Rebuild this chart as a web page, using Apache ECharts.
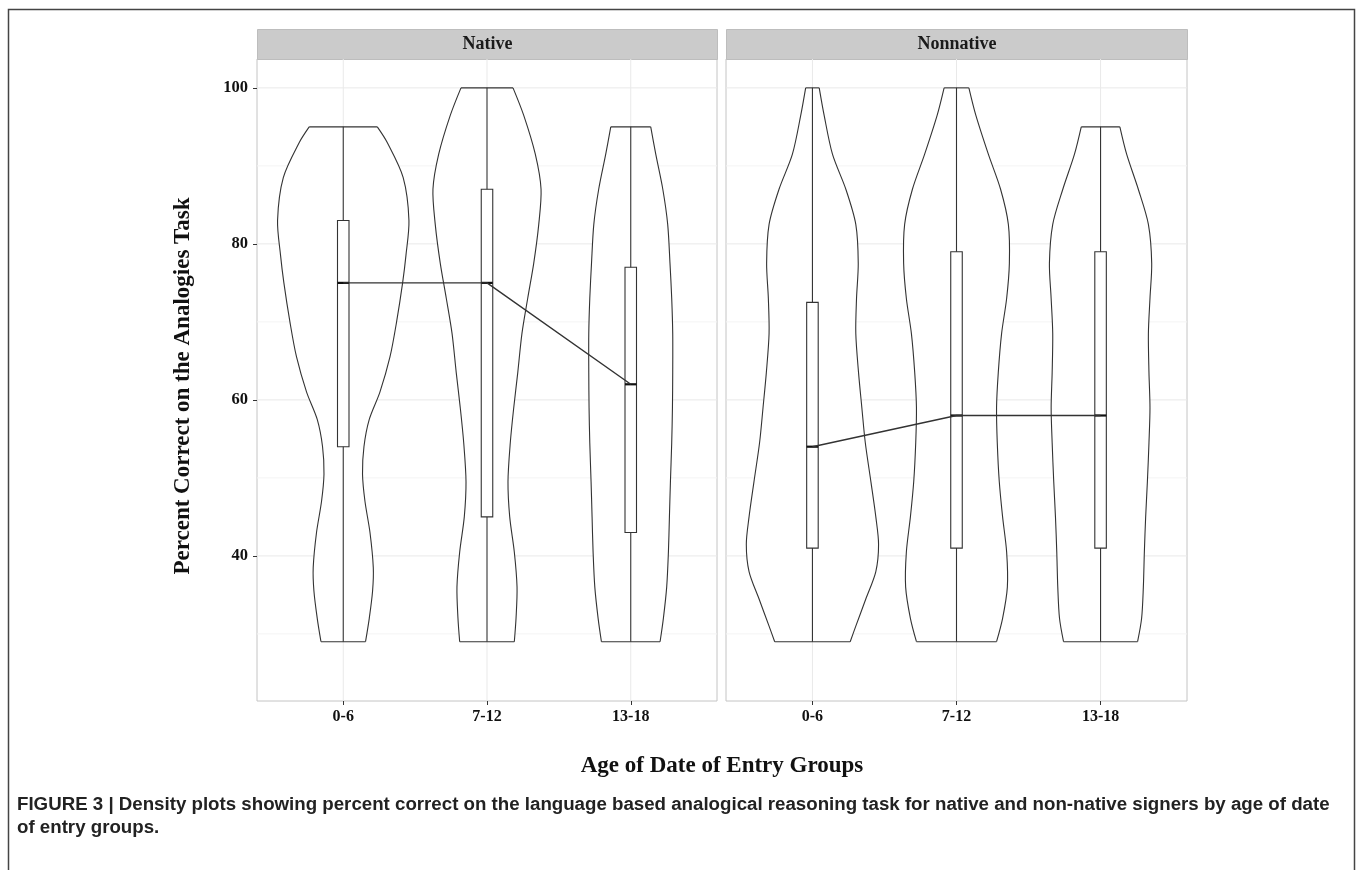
<!DOCTYPE html>
<html>
<head>
<meta charset="UTF-8">
<title>Analogies task - violin plots</title>
<script src="https://cdn.jsdelivr.net/npm/echarts@6/dist/echarts.min.js"></script>
<style>
  html, body { margin: 0; padding: 0; background: #fff; }
  #chart { width: 1358px; height: 870px; }
</style>
</head>
<body>
<div id="chart"></div>
<script>
// groups on the x axis (positions 1..3)
var groups = ['0-6', '7-12', '13-18'];
var panels = ['Native', 'Nonnative'];
var yTicks = [40, 60, 80, 100];
var yMinor = [30, 50, 70, 90];

// box stats per group: [min, q1, median, q3, max]
var nativeBox = [[29, 54, 75, 83, 95], [29, 45, 75, 87, 100], [29, 43, 62, 77, 95]];
var nonnativeBox = [[29, 41, 54, 72.5, 100], [29, 41, 58, 79, 100], [29, 41, 58, 79, 95]];

// violin outlines, bottom to top: [percent correct, half width in x units]
var nativeViolin06 = [[29, 0.155], [32, 0.181], [35.5, 0.204], [38.5, 0.209], [43, 0.186], [47, 0.151], [50.5, 0.134], [54, 0.144], [57.5, 0.181], [61, 0.255], [65.5, 0.325], [70, 0.371], [75, 0.413], [78.5, 0.436], [83, 0.457], [88.5, 0.417], [93, 0.306], [95, 0.237]];
var nativeViolin712 = [[29, 0.190], [32, 0.202], [36, 0.209], [40.5, 0.190], [45, 0.158], [49.5, 0.146], [54.5, 0.162], [59, 0.186], [63.5, 0.214], [68.5, 0.243], [73, 0.283], [77.5, 0.325], [82.5, 0.360], [87, 0.376], [91.5, 0.336], [96.5, 0.255], [100, 0.181]];
var nativeViolin1318 = [[29, 0.204], [32, 0.227], [36, 0.250], [40.5, 0.262], [45, 0.269], [49.5, 0.276], [54.5, 0.285], [59, 0.290], [63.5, 0.292], [68.5, 0.292], [73, 0.285], [77.5, 0.273], [82.5, 0.257], [87, 0.223], [91.5, 0.174], [95, 0.139]];
var nonnativeViolin06 = [[29, 0.262], [31, 0.301], [34.5, 0.371], [38, 0.440], [41.5, 0.459], [45, 0.440], [49.5, 0.406], [54.5, 0.367], [59, 0.343], [63.5, 0.320], [68.5, 0.301], [73, 0.306], [77.5, 0.318], [82.5, 0.301], [87, 0.232], [91.5, 0.139], [96.5, 0.081], [100, 0.047]];
var nonnativeViolin712 = [[29, 0.278], [32, 0.320], [36, 0.353], [40.5, 0.348], [45, 0.320], [49.5, 0.297], [54.5, 0.283], [59, 0.278], [63.5, 0.290], [68.5, 0.313], [73, 0.348], [77.5, 0.367], [82.5, 0.360], [87, 0.306], [91.5, 0.221], [96.5, 0.134], [100, 0.086]];
var nonnativeViolin1318 = [[29, 0.257], [32, 0.285], [36, 0.297], [40.5, 0.304], [45, 0.313], [49.5, 0.325], [54.5, 0.336], [59, 0.343], [63.5, 0.336], [68.5, 0.332], [73, 0.343], [77.5, 0.355], [82.5, 0.332], [87, 0.262], [91.5, 0.181], [95, 0.134]];

var nativeViolins = [nativeViolin06, nativeViolin712, nativeViolin1318];
var nonnativeViolins = [nonnativeViolin06, nonnativeViolin712, nonnativeViolin1318];

var caption = 'FIGURE 3 | Density plots showing percent correct on the language based analogical reasoning task for native and non-native signers by age of date\nof entry groups.';

var serif = 'Liberation Serif, Times New Roman, serif';
var ink = '#333';
var boxHalf = 0.04;

var chart = echarts.init(document.getElementById('chart'), null, {renderer: 'canvas'});

function violinItem(profiles) {
  return function (params, api) {
    var gi = api.value(0);
    var prof = profiles[gi - 1];
    var left = [], right = [];
    prof.forEach(function (p) {
      left.push(api.coord([gi - p[1], p[0]]));
      right.push(api.coord([gi + p[1], p[0]]));
    });
    var n = left.length - 1;
    var st = {stroke: ink, lineWidth: 1.1, fill: null};
    return {
      type: 'group',
      children: [
        {type: 'polygon', shape: {points: left.concat(right.slice().reverse())}, style: {fill: '#fff'}},
        {type: 'polyline', shape: {points: left, smooth: 0.3}, style: st},
        {type: 'polyline', shape: {points: right, smooth: 0.3}, style: st},
        {type: 'line', shape: {x1: left[0][0], y1: left[0][1], x2: right[0][0], y2: right[0][1]}, style: st},
        {type: 'line', shape: {x1: left[n][0], y1: left[n][1], x2: right[n][0], y2: right[n][1]}, style: st}
      ]
    };
  };
}

function boxItem(params, api) {
  var gi = api.value(0);
  var lo = api.coord([gi, api.value(1)]);
  var q1 = api.coord([gi - boxHalf, api.value(2)]);
  var med = api.coord([gi - boxHalf, api.value(3)]);
  var q3 = api.coord([gi + boxHalf, api.value(4)]);
  var hi = api.coord([gi, api.value(5)]);
  var st = {stroke: ink, lineWidth: 1.1};
  return {
    type: 'group',
    children: [
      {type: 'line', shape: {x1: lo[0], y1: lo[1], x2: hi[0], y2: hi[1]}, style: st},
      {type: 'rect', shape: {x: q1[0], y: q3[1], width: q3[0] - q1[0], height: q1[1] - q3[1]},
        style: {stroke: ink, lineWidth: 1.1, fill: '#fff'}},
      {type: 'line', shape: {x1: med[0], y1: med[1], x2: q3[0], y2: med[1]}, style: {stroke: '#111', lineWidth: 2.2}}
    ]
  };
}

function hLineItem(color) {
  return function (params, api) {
    var y = api.coord([2, api.value(1)])[1];
    var cs = params.coordSys;
    return {type: 'line', shape: {x1: cs.x, y1: y, x2: cs.x + cs.width, y2: y}, style: {stroke: color, lineWidth: 1}};
  };
}

function vLineItem(color) {
  return function (params, api) {
    var x = api.coord([api.value(0), 60])[0];
    var cs = params.coordSys;
    return {type: 'line', shape: {x1: x, y1: cs.y, x2: x, y2: cs.y + cs.height}, style: {stroke: color, lineWidth: 1}};
  };
}

function boxData(stats) {
  return stats.map(function (s, i) { return [i + 1].concat(s); });
}

function medianData(stats) {
  return stats.map(function (s, i) { return [i + 1, s[2]]; });
}

var grids = [
  {left: 257, top: 59, width: 460, height: 642},
  {left: 726, top: 59, width: 461, height: 642}
];

var xAxes = [], yAxes = [], series = [];
var allViolins = [nativeViolins, nonnativeViolins];
var allBoxes = [nativeBox, nonnativeBox];

grids.forEach(function (g, k) {
  xAxes.push({
    type: 'value', gridIndex: k, min: 0.4, max: 3.6,
    axisLine: {show: false},
    splitLine: {show: false},
    axisTick: {show: true, length: 4, customValues: [1, 2, 3], lineStyle: {color: ink}},
    axisLabel: {
      customValues: [1, 2, 3], margin: 8,
      formatter: function (v) { return groups[Math.round(v) - 1] || ''; },
      fontFamily: serif, fontWeight: 'bold', fontSize: 16, color: '#111'
    }
  });
  yAxes.push({
    type: 'value', gridIndex: k, min: 21.4, max: 103.7,
    axisLine: {show: false},
    splitLine: {show: false},
    axisTick: {show: k === 0, length: 4, customValues: yTicks, lineStyle: {color: ink}},
    axisLabel: {
      show: k === 0, customValues: yTicks, margin: 9,
      fontFamily: serif, fontWeight: 'bold', fontSize: 16.5, color: '#111'
    },
    name: k === 0 ? 'Percent Correct on the Analogies Task' : '',
    nameLocation: 'middle', nameGap: 62, nameRotate: 90,
    nameTextStyle: {fontFamily: serif, fontWeight: 'bold', fontSize: 23, color: '#111', padding: [0, 12, 0, 0]}
  });
  series.push({
    type: 'custom', xAxisIndex: k, yAxisIndex: k, z: 1, silent: true,
    renderItem: hLineItem('#f4f4f4'),
    data: yMinor.map(function (v) { return [2, v]; })
  });
  series.push({
    type: 'custom', xAxisIndex: k, yAxisIndex: k, z: 1, silent: true,
    renderItem: hLineItem('#e9e9e9'),
    data: yTicks.map(function (v) { return [2, v]; })
  });
  series.push({
    type: 'custom', xAxisIndex: k, yAxisIndex: k, z: 1, silent: true,
    renderItem: vLineItem('#e9e9e9'),
    data: groups.map(function (gname, i) { return [i + 1, 60]; })
  });
  series.push({
    type: 'custom', name: panels[k] + ' violin', xAxisIndex: k, yAxisIndex: k, z: 2, silent: true,
    renderItem: violinItem(allViolins[k]),
    data: groups.map(function (gname, i) { return [i + 1, 60]; })
  });
  series.push({
    type: 'custom', name: panels[k] + ' box', xAxisIndex: k, yAxisIndex: k, z: 3, silent: true,
    renderItem: boxItem,
    data: boxData(allBoxes[k])
  });
  series.push({
    type: 'line', name: panels[k] + ' median', xAxisIndex: k, yAxisIndex: k, z: 4, silent: true,
    symbol: 'none', lineStyle: {color: ink, width: 1.4},
    data: medianData(allBoxes[k])
  });
});

var gridOpts = grids.map(function (g) {
  return {left: g.left, top: g.top, width: g.width, height: g.height,
    show: true, borderColor: '#c4c4c4', borderWidth: 1, backgroundColor: 'transparent'};
});

var strips = grids.map(function (g, k) {
  return {
    type: 'group', left: g.left, top: 29,
    children: [
      {type: 'rect', shape: {x: 0, y: 0, width: g.width, height: 30},
        style: {fill: '#cbcbcb', stroke: '#bdbdbd', lineWidth: 1}},
      {type: 'text', x: g.width / 2, y: 15,
        style: {text: panels[k], font: 'bold 18px ' + serif, fill: '#1a1a1a', align: 'center', verticalAlign: 'middle'}}
    ]
  };
});

var option = {
  backgroundColor: '#fff',
  animation: false,
  grid: gridOpts,
  xAxis: xAxes,
  yAxis: yAxes,
  series: series,
  graphic: [
    {type: 'polyline', silent: true, shape: {points: [[8.5, 870], [8.5, 9.5], [1354.5, 9.5], [1354.5, 870]]},
      style: {stroke: '#444', lineWidth: 1.5, fill: null}}
  ].concat(strips).concat([
    {type: 'text', x: 722, y: 766,
      style: {text: 'Age of Date of Entry Groups', font: 'bold 23px ' + serif, fill: '#111', align: 'center', verticalAlign: 'middle'}},
    {type: 'text', x: 17, y: 793,
      style: {text: caption, font: 'bold 18.7px Liberation Sans, Arial, sans-serif', lineHeight: 23,
        fill: '#222', align: 'left', verticalAlign: 'top'}}
  ])
};

chart.setOption(option);
</script>
</body>
</html>
